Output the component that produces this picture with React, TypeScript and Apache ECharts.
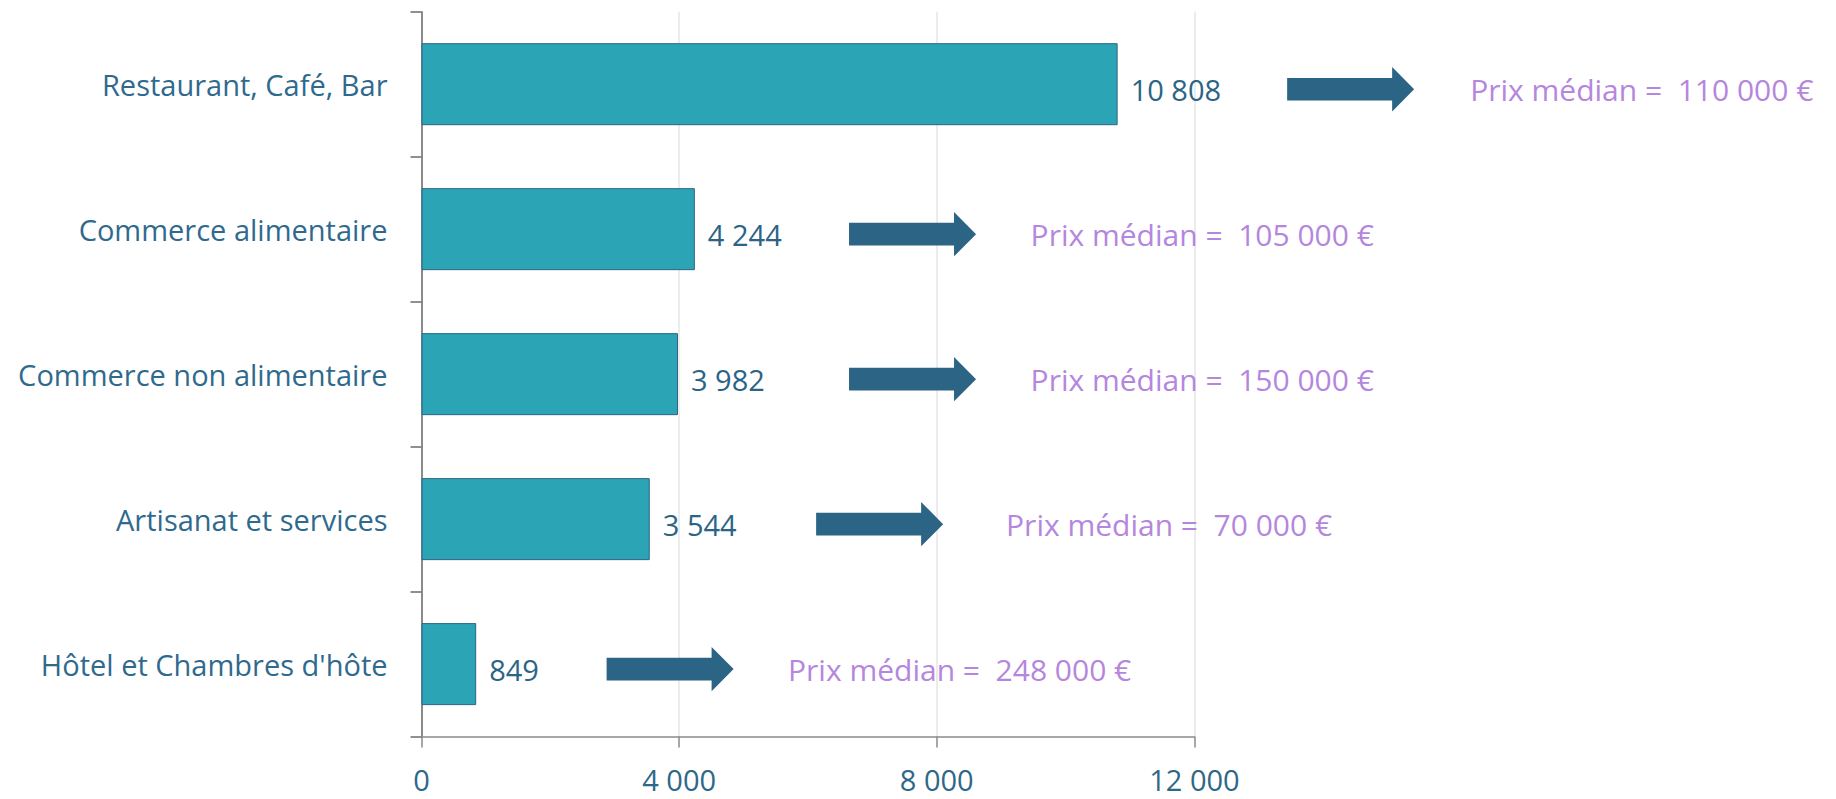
import React, { useEffect, useRef } from "react";
import * as echarts from "echarts";

const categories = [
  "Restaurant, Café, Bar",
  "Commerce alimentaire",
  "Commerce non alimentaire",
  "Artisanat et services",
  "Hôtel et Chambres d'hôte",
];
const counts = [10808, 4244, 3982, 3544, 849];
const medianPrices = [110000, 105000, 150000, 70000, 248000];
// annotation anchor positions, in x-axis data units
const arrowStarts = [13440, 6638, 6638, 6127, 2874];
const textStarts = [16281, 9457, 9457, 9076, 5691];
const xTicks = [0, 4000, 8000, 12000];

const FONT = "'Open Sans', 'Noto Sans', sans-serif";
const fmt = (v: number) => String(v).replace(/\B(?=(\d{3})+(?!\d))/g, " ");

export default function App() {
  const ref = useRef<HTMLDivElement>(null);
  useEffect(() => {
    if (!ref.current) return;
    const chart = echarts.init(ref.current, null, { renderer: "svg" });
    const annot = categories.map((_, i) => [arrowStarts[i], i, textStarts[i], medianPrices[i]]);
    chart.setOption({
      animation: false,
      grid: { left: 421.5, right: 641.6, top: 11.7, bottom: 62.4, containLabel: false },
      xAxis: {
        type: "value",
        min: xTicks[0],
        max: xTicks[xTicks.length - 1],
        interval: 4000,
        axisLine: { show: true, lineStyle: { color: "#8a8a8a", width: 1.5 } },
        axisTick: { show: true, length: 11, lineStyle: { color: "#8a8a8a", width: 1.5 } },
        axisLabel: {
          margin: 28,
          color: "#2e6888",
          fontSize: 29,
          lineHeight: 30,
          fontFamily: FONT,
          formatter: (v: number) => fmt(v),
        },
        splitLine: { show: true, lineStyle: { color: "#e6e6e6", width: 1.5 } },
      },
      yAxis: {
        type: "category",
        data: categories,
        inverse: true,
        axisLine: { show: true, lineStyle: { color: "#6b6b6b", width: 1.5 } },
        axisTick: { show: true, length: 11, alignWithLabel: false, lineStyle: { color: "#6b6b6b", width: 1.5 } },
        axisLabel: { margin: 34, color: "#2f6a8e", fontSize: 29, fontFamily: FONT },
      },
      series: [
        {
          type: "bar",
          data: counts,
          barWidth: 82,
          itemStyle: { color: "#2ba5b6", borderColor: "#2b6485", borderWidth: 1 },
          label: {
            show: true,
            position: "right",
            distance: 13,
            offset: [0, 5],
            color: "#2b6485",
            fontSize: 29,
            fontWeight: 500,
            fontFamily: FONT,
            formatter: (p: any) => fmt(p.value),
          },
        },
        {
          type: "custom",
          clip: false,
          z: 10,
          data: annot,
          renderItem: (params: any, api: any) => {
            const start = api.coord([api.value(0), api.value(1)]);
            const tpos = api.coord([api.value(2), api.value(1)]);
            const x = start[0];
            const y = start[1] + 5;
            const L = 127, HL = 22, SH = 11.3, HH = 22.2;
            return {
              type: "group",
              children: [
                {
                  type: "polygon",
                  shape: {
                    points: [
                      [x, y - SH],
                      [x + L - HL, y - SH],
                      [x + L - HL, y - HH],
                      [x + L, y],
                      [x + L - HL, y + HH],
                      [x + L - HL, y + SH],
                      [x, y + SH],
                    ],
                  },
                  style: { fill: "#2b6485" },
                },
                {
                  type: "text",
                  x: tpos[0],
                  y: y,
                  style: {
                    text: "Prix médian =  " + fmt(api.value(3)) + " €",
                    fill: "#b586dd",
                    fontSize: 30,
                    fontWeight: 500,
                    fontFamily: FONT,
                    align: "left",
                    verticalAlign: "middle",
                  },
                },
              ],
            };
          },
        },
      ],
    });
    return () => chart.dispose();
  }, []);
  return (
    <div
      ref={ref}
      style={{ position: "fixed", left: 0, top: 0, width: 1836, height: 799, background: "#fff" }}
    />
  );
}
